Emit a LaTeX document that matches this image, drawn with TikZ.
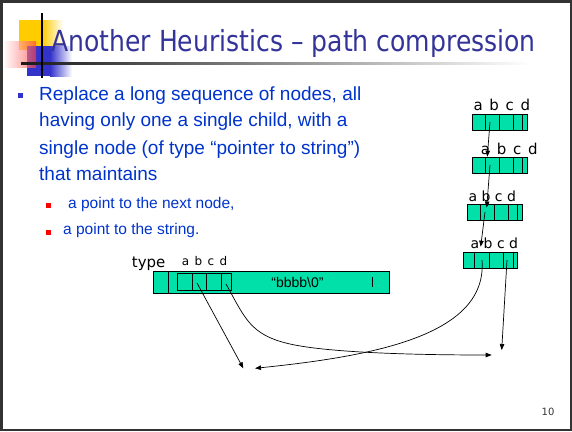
\documentclass[tikz,border=0pt]{standalone}
\usepackage{fontspec}
\setmainfont{Liberation Sans}
\newfontfamily\titlefont[FakeStretch=0.865]{DejaVu Sans}
\newfontfamily\labfont{DejaVu Sans}
\usetikzlibrary{arrows.meta}
\definecolor{titleblue}{RGB}{51,51,153}
\definecolor{textblue}{RGB}{0,51,204}
\definecolor{bulletblue}{RGB}{51,51,204}
\definecolor{cellgreen}{RGB}{0,224,168}
\definecolor{decoyellow}{RGB}{255,204,0}
\definecolor{decored}{RGB}{255,60,60}

\begin{document}
\begin{tikzpicture}[x=1pt,y=-1pt]
    % --- styles ---
    \tikzstyle{cell}=[fill=cellgreen, draw=black, line width=0.8pt]
    \tikzstyle{sep}=[line width=0.8pt]
    \tikzstyle{ptr}=[-{Stealth[length=6pt,width=4.5pt,inset=0pt]}, line width=0.7pt]
    \tikzstyle{abcd}=[inner sep=0pt, anchor=base west, font={\labfont\fontsize{15}{15}\selectfont\spaceskip=0.45em\relax}]
    \tikzstyle{body}=[inner sep=0pt, anchor=base west, text=textblue, font=\fontsize{19}{19}\selectfont]
    \tikzstyle{sub}=[inner sep=0pt, anchor=base west, text=textblue, font=\fontsize{15.5}{15.5}\selectfont]

    \useasboundingbox (0,0) rectangle (572,431);

    % ====== slide frame and title ======
    \fill[decoyellow] (19,20) rectangle (42,50);
    \shade[left color=decoyellow, right color=white] (42,20) rectangle (63,50);
    \fill[bulletblue] (27,46) rectangle (50,76);
    \shade[left color=bulletblue, right color=white] (50,46) rectangle (72,76);
    \shade[left color=white, right color=decored, opacity=0.65] (3,41) rectangle (36,67);
    \shade[left color=black!90, right color=white] (21,62.3) rectangle (530,64.3);
    \draw[line width=1.6pt] (41.7,13) -- (41.7,78);
    \node[inner sep=0pt, anchor=base west, text=titleblue, font=\titlefont\fontsize{29}{29}\selectfont] (title) at (51,51) {Another Heuristics – path compression};
    \draw[line width=2.5pt, black!80] (1.25,1.25) rectangle (570.75,429.75);
    \node[font=\labfont\fontsize{10}{10}\selectfont, text=black!80] (pageno) at (548,412) {10};

    % ====== bullet text ======
    \fill[bulletblue] (18.3,93.3) rectangle (23.3,98.3);
    \node[body] (line1) at (39,100) {Replace a long sequence of nodes, all};
    \node[body] (line2) at (39,126.7) {having only one a single child, with a};
    \node[body] (line3) at (39,154.3) {single node (of type “pointer to string”)};
    \node[body] (line4) at (39,180) {that maintains};
    \fill[red] (45.5,203) rectangle (50.5,208);
    \node[sub] (sub1) at (68,208) {a point to the next node,};
    \fill[red] (45.5,230) rectangle (50.5,235);
    \node[sub] (sub2) at (63,234) {a point to the string.};

    % ====== chain of single-child nodes ======
    \begin{scope}[shift={(472,114)}]
        \draw[cell] (0,0) rectangle (55,16);
        \foreach \x in {13,27,41,50} \draw[sep] (\x,0) -- (\x,16);
        \coordinate (n1b) at (18,8);
    \end{scope}
    \node[abcd] (lab1) at (473.3,110.7) {a b c d};

    \begin{scope}[shift={(472,157)}]
        \draw[cell] (0,0) rectangle (55,16);
        \foreach \x in {13,27,41,50} \draw[sep] (\x,0) -- (\x,16);
        \coordinate (n2b) at (18,8);
        \coordinate (n2top) at (15.3,-0.3);
    \end{scope}
    \node[abcd] (lab2) at (480.7,154) {a b c d};

    \begin{scope}[shift={(467,204)}]
        \draw[cell] (0,0) rectangle (55,16);
        \foreach \x in {13,27,41,50} \draw[sep] (\x,0) -- (\x,16);
        \coordinate (n3b) at (18,8);
        \coordinate (n3top) at (19.7,3.5);
    \end{scope}
    \node[abcd, font={\labfont\fontsize{14}{14}\selectfont}] (lab3) at (468.3,201.7) {a b c d};

    \begin{scope}[shift={(463,252)}]
        \draw[cell] (0,0) rectangle (54,16);
        \foreach \x in {11.6,26.6,40.6,50.6} \draw[sep] (\x,0) -- (\x,16);
        \coordinate (n4b) at (19,8);
        \coordinate (n4d) at (44,8);
        \coordinate (n4top) at (17.7,-5.3);
    \end{scope}
    \node[abcd, font={\labfont\fontsize{14}{14}\selectfont}] (lab4) at (470.5,248.3) {a b c d};

    \draw[ptr] (n1b) -- (n2top);
    \draw[ptr] (n2b) -- (n3top);
    \draw[ptr] (n3b) -- (n4top);

    % ====== compressed node ======
    \node[inner sep=0pt, anchor=base west, font=\labfont\fontsize{15}{15}\selectfont] (type) at (131.7,267) {type};
    \node[abcd, font={\labfont\fontsize{12}{12}\selectfont\spaceskip=0.45em\relax}] (lab5) at (181.7,265.7) {a b c d};
    \begin{scope}[shift={(153,271)}]
        \draw[cell] (0,0) rectangle (236,22);
        \draw[sep] (15,0) -- (15,22);
        \draw[sep] (24,2) rectangle (78,19);
        \foreach \x in {39,53,68} \draw[sep] (\x,2) -- (\x,19);
        \draw[sep] (219,6) -- (219,16);
        \node[font=\fontsize{14}{14}\selectfont] (str) at (144.5,11) {“bbbb\textbackslash 0”};
        \coordinate (cb) at (44,12);
        \coordinate (cd) at (73,13);
    \end{scope}

    % ====== free ends of the pointers ======
    \coordinate (tipA) at (243.3,368.3);
    \coordinate (tipB) at (255,368.3);
    \coordinate (tipC) at (491.7,355);
    \coordinate (tipD) at (501.7,350);

    \draw[ptr] (cb) -- (tipA);
    \draw[ptr] (cd) .. controls (245,318) and (250,335) .. (290,344) .. controls (330,353) and (420,355) .. (tipC);
    \draw[ptr] (n4b) .. controls (488,335) and (375,356) .. (tipB);
    \draw[ptr] (n4d) -- (tipD);
\end{tikzpicture}
\end{document}
